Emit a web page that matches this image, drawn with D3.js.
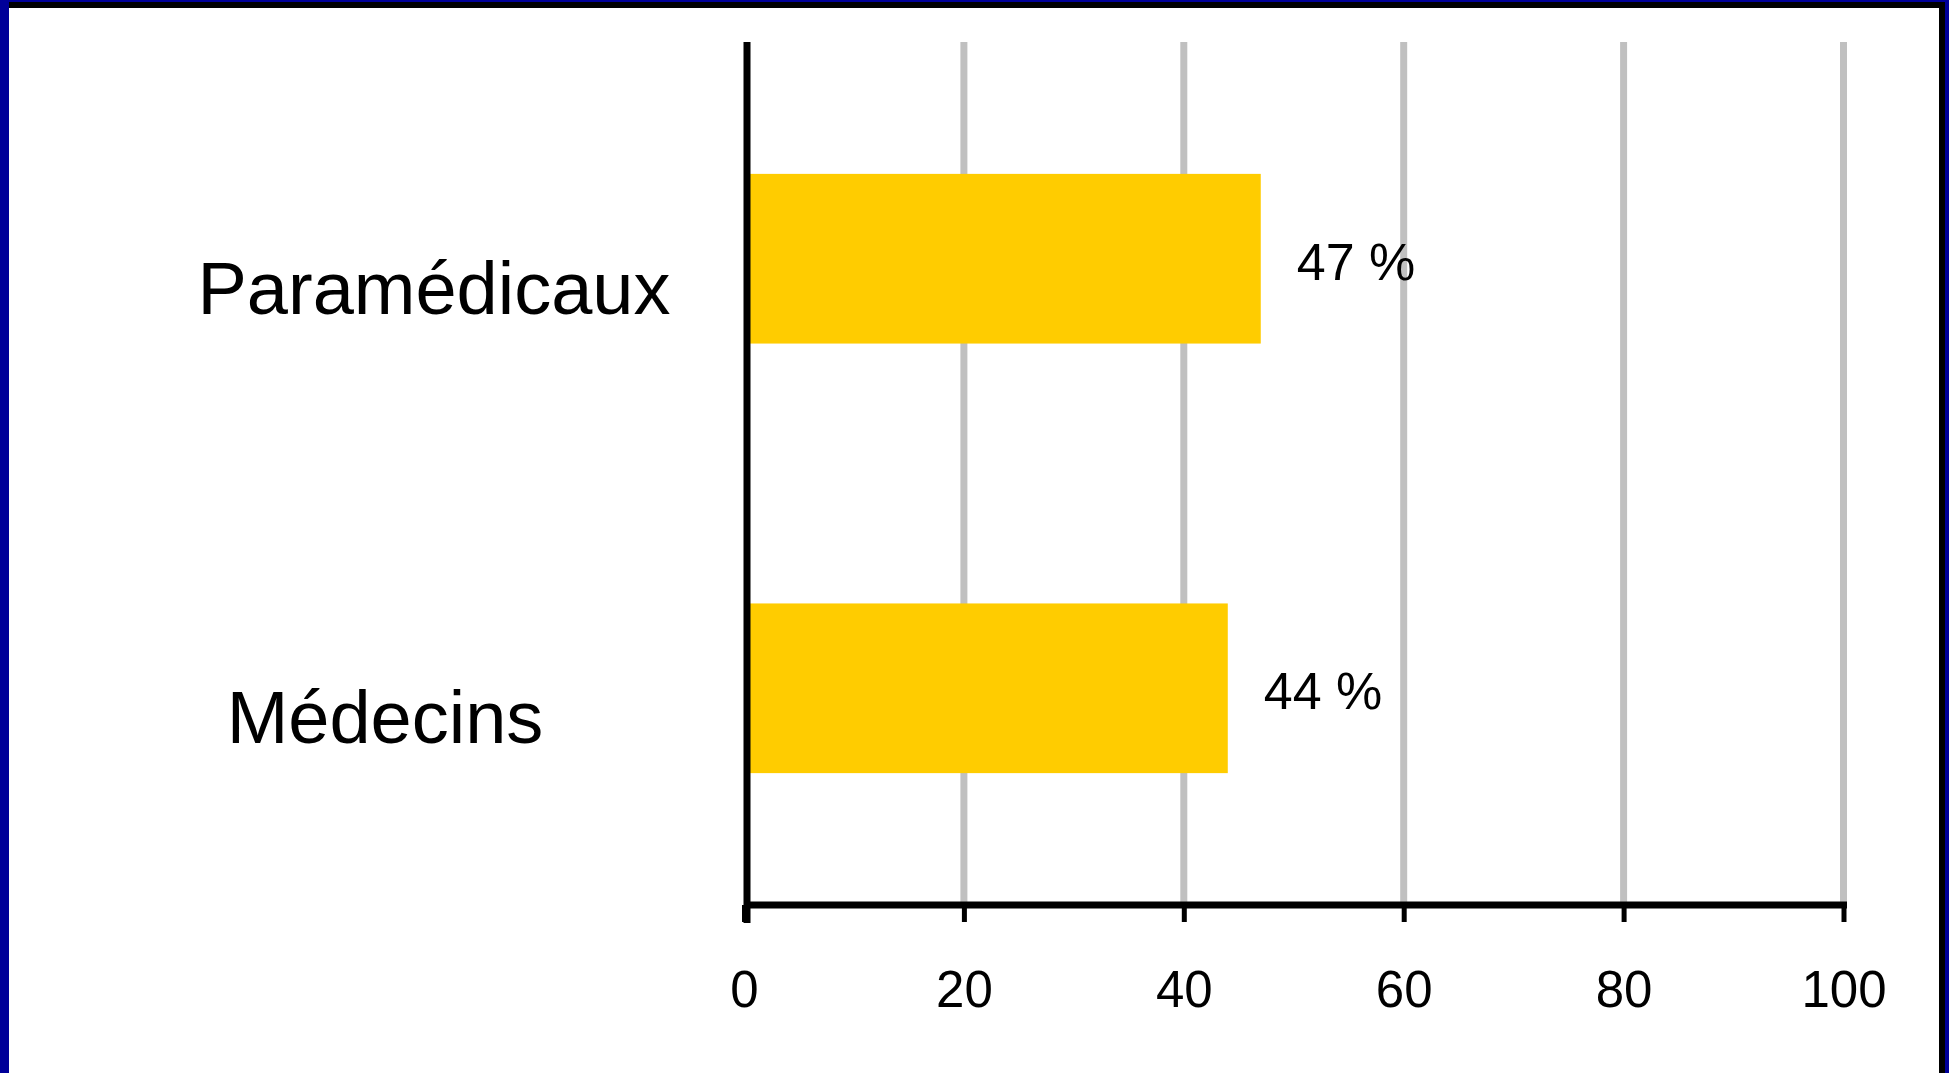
<!DOCTYPE html>
<html>
<head>
<meta charset="utf-8">
<script src="https://cdn.jsdelivr.net/npm/d3@7/dist/d3.min.js"></script>
<style>
html, body { margin: 0; padding: 0; background: #ffffff; }
svg { display: block; }
text { font-family: "Liberation Sans", Arial, sans-serif; fill: #000; }
</style>
</head>
<body>
<svg id="chart" width="1949" height="1073"></svg>
<script>
// ---- data ----
const categories = ["Paramédicaux", "Médecins"];
const values = [47, 44];
const valueLabels = ["47 %", "44 %"];
const tickValues = [0, 20, 40, 60, 80, 100];
const tickLabels = ["0", "20", "40", "60", "80", "100"];

// ---- layout ----
const W = 1949, H = 1073;
const plotTop = 42, plotBottom = 905;
const labelCenterX = { "Paramédicaux": 434, "Médecins": 385 };

const svg = d3.select("#chart");

// frame
svg.append("rect").attr("x", 0).attr("y", 0).attr("width", W).attr("height", H).attr("fill", "#fff");
svg.append("rect").attr("x", 0).attr("y", 2).attr("width", W).attr("height", 6).attr("fill", "#000");
svg.append("rect").attr("x", 0).attr("y", 0).attr("width", W).attr("height", 2).attr("fill", "#000099");
svg.append("rect").attr("x", 1939).attr("y", 2).attr("width", 6).attr("height", H).attr("fill", "#000");
svg.append("rect").attr("x", 1945).attr("y", 0).attr("width", 4).attr("height", H).attr("fill", "#000099");
svg.append("rect").attr("x", 0).attr("y", 0).attr("width", 9).attr("height", H).attr("fill", "#000099");

const x = d3.scaleLinear().domain([0, 100]).range([744, 1843.5]);
const y = d3.scaleBand().domain(categories).range([plotTop, plotBottom])
  .paddingInner(0.605).paddingOuter(0.307);

// gridlines
svg.append("g").selectAll("line").data(tickValues.filter(d => d > 0)).join("line")
  .attr("x1", d => x(d)).attr("x2", d => x(d))
  .attr("y1", plotTop).attr("y2", plotBottom)
  .attr("stroke", "#c0c0c0").attr("stroke-width", 7);

// bars
const rows = categories.map((c, i) => ({ c, v: values[i], lab: valueLabels[i] }));
svg.append("g").selectAll("rect").data(rows).join("rect")
  .attr("x", x(0)).attr("y", d => y(d.c))
  .attr("width", d => x(d.v) - x(0)).attr("height", y.bandwidth())
  .attr("fill", "#ffcc00");

// x axis
const xAxis = d3.axisBottom(x).tickValues(tickValues)
  .tickFormat((d, i) => tickLabels[i]).tickSize(17).tickPadding(0);
const gx = svg.append("g").attr("transform", `translate(0,${plotBottom})`).call(xAxis);
gx.select(".domain").remove();
gx.selectAll(".tick line").attr("stroke", "#000").attr("stroke-width", 5);
gx.selectAll(".tick text").attr("y", 102).attr("dy", null)
  .style("font-size", "51px").style("font-family", "'Liberation Sans', Arial, sans-serif")
  .attr("fill", "#000");
svg.append("line").attr("x1", x(0)).attr("x2", x(100) + 3.5)
  .attr("y1", plotBottom).attr("y2", plotBottom)
  .attr("stroke", "#000").attr("stroke-width", 7);

// y axis line
svg.append("line").attr("x1", 747).attr("x2", 747)
  .attr("y1", plotTop).attr("y2", plotBottom + 18)
  .attr("stroke", "#000").attr("stroke-width", 7);

// category labels
svg.append("g").selectAll("text").data(rows).join("text")
  .attr("x", d => labelCenterX[d.c])
  .attr("y", d => y(d.c) + y.bandwidth() / 2 + 55)
  .attr("text-anchor", "middle")
  .style("font-size", "74px")
  .text(d => d.c);

// value labels
svg.append("g").selectAll("text").data(rows).join("text")
  .attr("x", d => x(d.v) + 36)
  .attr("y", d => y(d.c) + y.bandwidth() / 2 + 21)
  .style("font-size", "52px")
  .text(d => d.lab);
</script>
</body>
</html>
